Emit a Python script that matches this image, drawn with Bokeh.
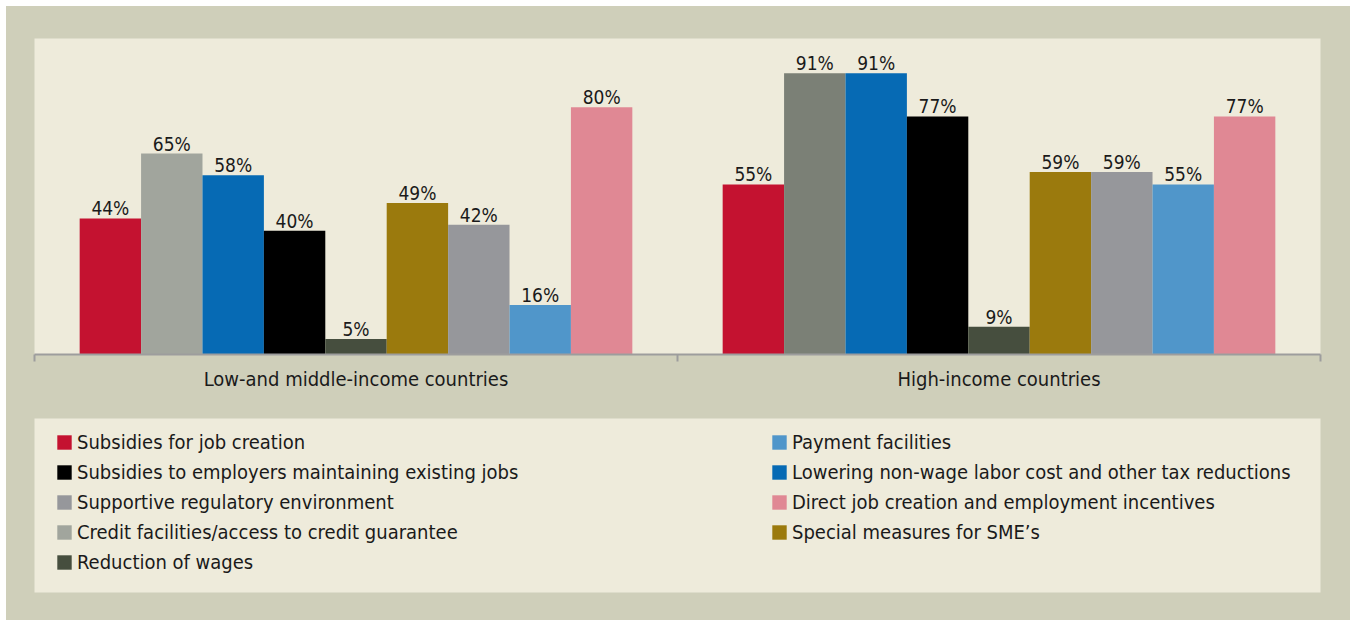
from bokeh.plotting import figure
from bokeh.models import (ColumnDataSource, Range1d, LinearAxis, FixedTicker, Legend, LegendItem)
from bokeh.layouts import column
from bokeh.transform import dodge
from bokeh.core.properties import value
from bokeh.embed import file_html
from bokeh.resources import INLINE

# ---------------- data ----------------
groups = ["Low-and middle-income countries", "High-income countries"]

measures = [
    "Subsidies for job creation",
    "Credit facilities/access to credit guarantee",
    "Lowering non-wage labor cost and other tax reductions",
    "Subsidies to employers maintaining existing jobs",
    "Reduction of wages",
    "Special measures for SME\u2019s",
    "Supportive regulatory environment",
    "Payment facilities",
    "Direct job creation and employment incentives",
]

low_middle = [44, 65, 58, 40, 5, 49, 42, 16, 80]
high_income = [55, 91, 91, 77, 9, 59, 59, 55, 77]

colors = ["#c41230", "#a1a59d", "#066ab4", "#000000", "#464e3e",
          "#9b7a0d", "#96979b", "#5096ca", "#e08894"]
# the second bar of the high-income group is drawn in a darker grey in the original
high_colors = ["#c41230", "#7b8076", "#066ab4", "#000000", "#464e3e",
               "#9b7a0d", "#96979b", "#5096ca", "#e08894"]

legend_left = [0, 3, 6, 1, 4]   # indices into measures
legend_right = [7, 2, 8, 5]

# ---------------- style ----------------
FONT = "DejaVu Sans Condensed"
CREAM = "#eeebdb"
OUTER = "#cfcfba"
TXT = "#1a1a1a"

W = 1344
BAR_W = 0.0955

group_pos = [k + 0.5 for k in range(len(groups))]   # centre of each group slot
bounds = list(range(len(groups) + 1))

p = figure(width=W, height=394, x_range=Range1d(0, len(groups)),
           y_range=Range1d(0, 102.2), output_backend="svg", toolbar_location=None,
           x_axis_location=None, y_axis_location=None,
           min_border_left=28, min_border_right=30, min_border_top=32, min_border_bottom=46)
p.background_fill_color = CREAM
p.border_fill_color = OUTER
p.outline_line_color = None
p.grid.visible = False

ax_ticks = LinearAxis(ticker=FixedTicker(ticks=bounds))
ax_ticks.major_label_overrides = {b: "" for b in bounds}
ax_ticks.axis_line_color = "#9d9d9d"
ax_ticks.axis_line_width = 2
ax_ticks.major_tick_line_color = "#9d9d9d"
ax_ticks.major_tick_line_width = 2
ax_ticks.major_tick_in = 0
ax_ticks.major_tick_out = 7
ax_ticks.minor_tick_line_color = None
ax_ticks.major_label_text_font_size = "1px"
ax_ticks.major_label_standoff = 0
p.add_layout(ax_ticks, "below")

ax_cat = LinearAxis(ticker=FixedTicker(ticks=group_pos))
ax_cat.major_label_overrides = {gp: g for gp, g in zip(group_pos, groups)}
ax_cat.axis_line_color = None
ax_cat.major_tick_line_color = None
ax_cat.minor_tick_line_color = None
ax_cat.major_tick_out = 0
ax_cat.major_tick_in = 0
ax_cat.major_label_standoff = 5
ax_cat.major_label_text_font = FONT
ax_cat.major_label_text_font_size = "20px"
ax_cat.major_label_text_color = TXT
p.add_layout(ax_cat, "below")

n = len(measures)
for i, m in enumerate(measures):
    vals = [low_middle[i], high_income[i]]
    src = ColumnDataSource(dict(
        pos=group_pos,
        top=vals,
        label=[f"{v}%" for v in vals],
        color=[colors[i], high_colors[i]],
    ))
    off = (i - (n - 1) / 2) * BAR_W
    p.vbar(x=dodge("pos", off), top="top", width=BAR_W, source=src,
           fill_color="color", line_color=None)
    p.text(x=dodge("pos", off), y="top", text="label", source=src,
           text_align="center", text_baseline="bottom", y_offset=1,
           text_font=value(FONT), text_font_size="19px", text_color=TXT)

# ---------------- legend panel ----------------
q = figure(width=W, height=220, x_range=Range1d(0, 1), y_range=Range1d(0, 1),
           output_backend="svg", toolbar_location=None,
           x_axis_location=None, y_axis_location=None,
           min_border_left=28, min_border_right=30, min_border_top=18, min_border_bottom=28)
q.background_fill_color = CREAM
q.border_fill_color = OUTER
q.outline_line_color = None
q.grid.visible = False

nan = float("nan")
dummies = []
for i, m in enumerate(measures):
    r = q.vbar(x=[nan], top=[nan], width=0.1, fill_color=colors[i], line_color=None)
    dummies.append(r)


def make_legend(idx, loc):
    lg = Legend(items=[LegendItem(label=measures[k], renderers=[dummies[k]]) for k in idx],
                location=loc, orientation="vertical")
    lg.background_fill_alpha = 0
    lg.border_line_color = None
    lg.padding = 0
    lg.margin = 0
    lg.spacing = 6
    lg.glyph_width = 18
    lg.glyph_height = 18
    lg.label_height = 18
    lg.label_standoff = 4
    lg.label_text_font = FONT
    lg.label_text_font_size = "20px"
    lg.label_text_color = TXT
    return lg


q.add_layout(make_legend(legend_left, (21, 18)), "center")
q.add_layout(make_legend(legend_right, (736, 48)), "center")

layout = column(p, q, spacing=0, margin=(6, 0, 0, 6), styles={"background-color": OUTER})
open("out.html", "w").write(file_html(layout, INLINE))
